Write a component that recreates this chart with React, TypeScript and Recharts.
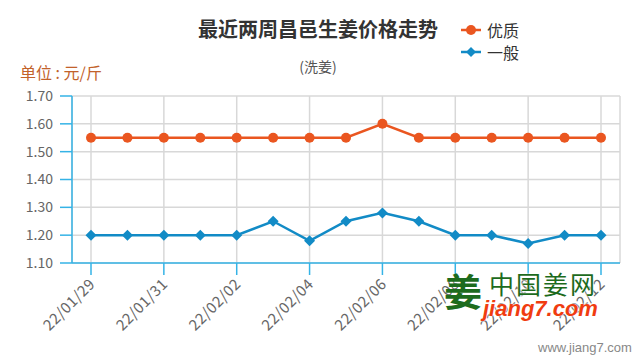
import { LineChart, Line, XAxis, YAxis, CartesianGrid } from 'recharts';

const dates = [
  '22/01/29', '22/01/30', '22/01/31', '22/02/01', '22/02/02', '22/02/03', '22/02/04', '22/02/05',
  '22/02/06', '22/02/07', '22/02/08', '22/02/09', '22/02/10', '22/02/11', '22/02/12',
];
const premium = [1.55, 1.55, 1.55, 1.55, 1.55, 1.55, 1.55, 1.55, 1.6, 1.55, 1.55, 1.55, 1.55, 1.55, 1.55];
const ordinary = [1.2, 1.2, 1.2, 1.2, 1.2, 1.25, 1.18, 1.25, 1.28, 1.25, 1.2, 1.2, 1.17, 1.2, 1.2];
const yTicks = [1.1, 1.2, 1.3, 1.4, 1.5, 1.6, 1.7];

const data = dates.map((date, i) => ({ date, premium: premium[i], ordinary: ordinary[i] }));

const ORANGE = '#ea5620';
const BLUE = '#128bc6';
const AXIS = '#35b3e6';
const FONT = '"Noto Sans CJK SC", "Noto Sans", sans-serif';

const Diamond = (props: any) => {
  const { cx, cy } = props;
  if (cx == null || cy == null) return null;
  return <polygon points={`${cx},${cy - 5.5} ${cx + 5.5},${cy} ${cx},${cy + 5.5} ${cx - 5.5},${cy}`} fill={BLUE} />;
};

const DateTick = (props: any) => {
  const { x, y, payload } = props;
  return (
    <text
      x={x + 5}
      y={y + 8}
      transform={`rotate(-45, ${x + 5}, ${y + 8})`}
      textAnchor="end"
      fill="#666"
      fontSize={15}
      fontFamily={FONT}
      letterSpacing={0.5}
    >
      {payload.value}
    </text>
  );
};

// legend drawn outside the chart so it doesn't eat the plot margin
const LegendBox = () => (
  <div style={{ position: 'absolute', left: 461, top: 19, fontFamily: FONT, fontSize: 16, color: '#333' }}>
    {[
      { name: '优质', color: ORANGE, kind: 'circle' },
      { name: '一般', color: BLUE, kind: 'diamond' },
    ].map((it) => (
      <div key={it.name} style={{ display: 'flex', alignItems: 'center', height: 22 }}>
        <svg width={20} height={12} style={{ marginRight: 6 }}>
          <line x1={0} y1={6} x2={20} y2={6} stroke={it.color} strokeWidth={2.5} />
          {it.kind === 'circle' ? (
            <circle cx={10} cy={6} r={5} fill={it.color} />
          ) : (
            <polygon points="10,1 15,6 10,11 5,6" fill={it.color} />
          )}
        </svg>
        <span>{it.name}</span>
      </div>
    ))}
  </div>
);

export default function App() {
  return (
    <div style={{ position: 'fixed', left: 0, top: 0, width: 640, height: 360, background: '#fff', fontFamily: FONT }}>
      <div style={{ position: 'absolute', left: 0, width: 636, top: 14, textAlign: 'center', fontSize: 20, fontWeight: 'bold', color: '#333' }}>
        最近两周昌邑生姜价格走势
      </div>
      <div style={{ position: 'absolute', left: 0, width: 636, top: 56, textAlign: 'center', fontSize: 14, color: '#555' }}>
        (洗姜)
      </div>
      <div style={{ position: 'absolute', left: 20, top: 60, fontSize: 16, color: '#c2622a' }}>
        单位 : 元/斤
      </div>
      <LegendBox />
      <LineChart width={640} height={360} data={data} margin={{ top: 96, right: 20, bottom: 17, left: 0 }}>
        <CartesianGrid stroke="#d8d8d8" strokeWidth={1.5} />
        <XAxis
          dataKey="date"
          interval={1}
          padding={{ left: 19, right: 19 }}
          height={80}
          stroke={AXIS}
          strokeWidth={1.5}
          tickSize={12}
          tickMargin={2}
          tick={<DateTick />}
        />
        <YAxis
          domain={[1.1, 1.7]}
          ticks={yTicks}
          width={72}
          stroke={AXIS}
          strokeWidth={1.5}
          tickSize={12}
          tickMargin={7}
          tick={{ fill: '#666', fontSize: 14, fontFamily: FONT }}
          tickFormatter={(v: number) => v.toFixed(2)}
        />
        <Line
          type="linear"
          dataKey="premium"
          name="优质"
          stroke={ORANGE}
          strokeWidth={2.5}
          dot={{ r: 5, fill: ORANGE, stroke: ORANGE, strokeWidth: 0 }}
          isAnimationActive={false}
        />
        <Line
          type="linear"
          dataKey="ordinary"
          name="一般"
          stroke={BLUE}
          strokeWidth={2.5}
          dot={<Diamond />}
          isAnimationActive={false}
        />
      </LineChart>
      <div style={{ position: 'absolute', left: 444, top: 264, fontSize: 38, fontWeight: 'bold', color: '#1d6b1d', lineHeight: '52px' }}>
        姜
      </div>
      <div style={{ position: 'absolute', left: 489, top: 267, fontSize: 25, color: '#1d6b1d', letterSpacing: 2, lineHeight: '32px', textShadow: '0 0 2px #fff, 0 0 2px #fff' }}>
        中国姜网
      </div>
      <div style={{ position: 'absolute', left: 483, top: 296, fontSize: 22, fontWeight: 'bold', fontStyle: 'italic', color: '#f03c10', lineHeight: '26px', fontFamily: 'Arial, "Liberation Sans", sans-serif', textShadow: '0 0 2px #fff, 0 0 2px #fff' }}>
        jiang7.com
      </div>
      <div style={{ position: 'absolute', left: 538, top: 340, fontSize: 13, color: '#888', fontFamily: '"Liberation Sans", Arial, sans-serif' }}>
        www.jiang7.com
      </div>
    </div>
  );
}
